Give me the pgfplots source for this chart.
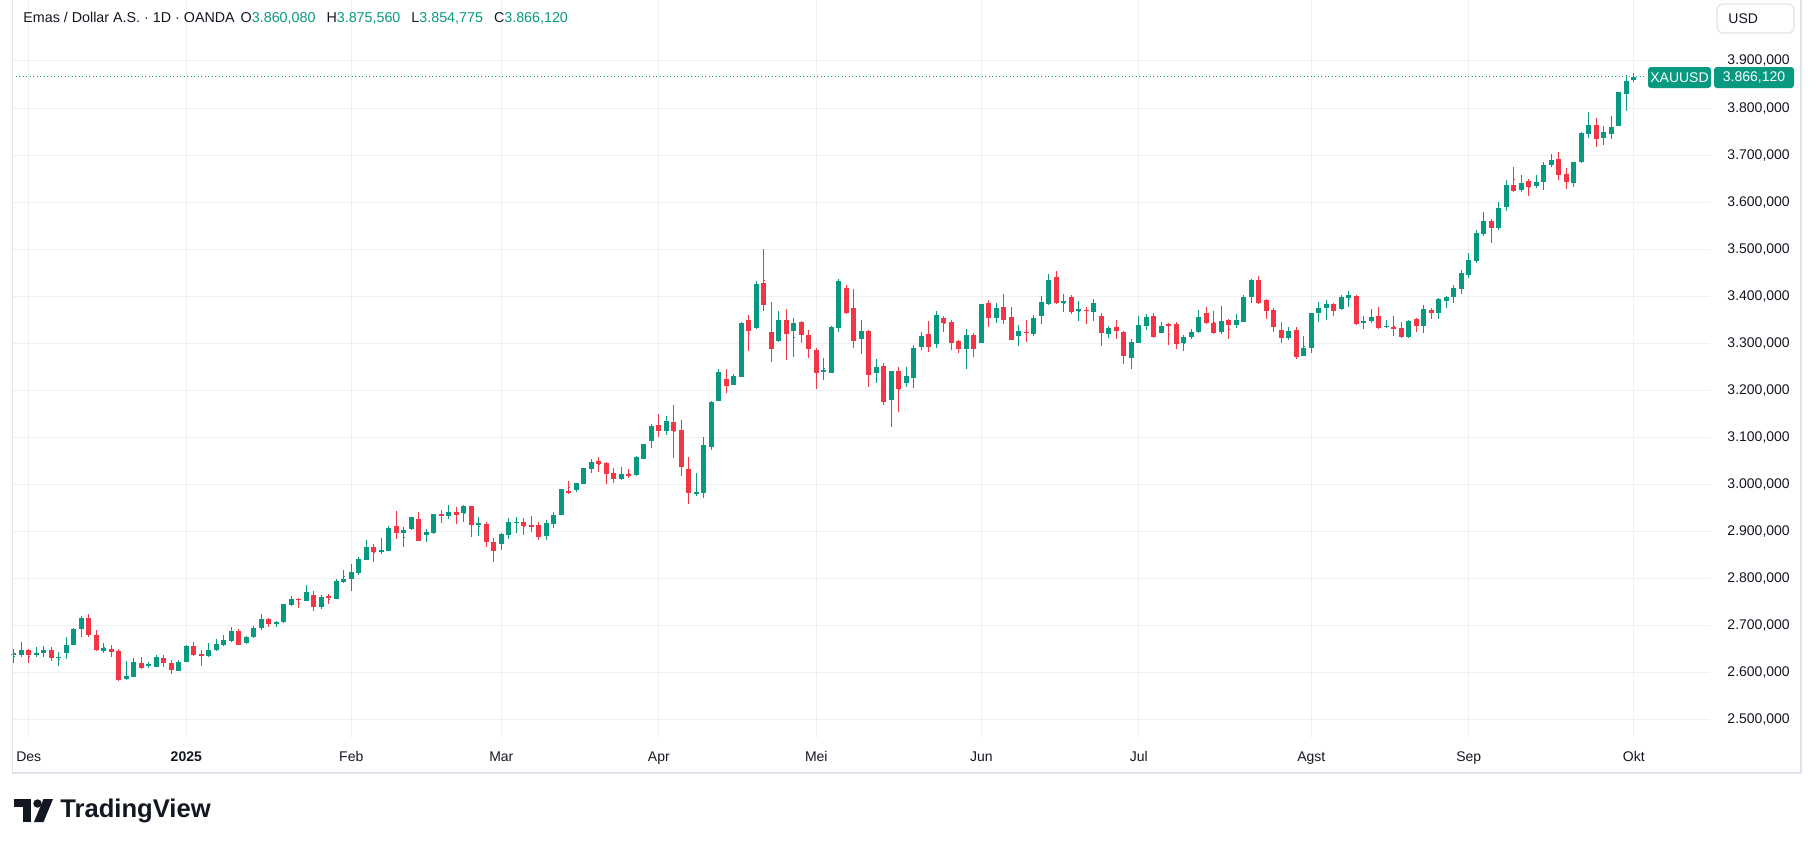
\documentclass[border=0pt]{standalone}
\usepackage{pgfplots}
\pgfplotsset{compat=1.18}
\usepackage{pgfplotstable}
\usepackage{fontspec}
\setmainfont{Liberation Sans}
\definecolor{upc}{HTML}{089981}
\definecolor{dnc}{HTML}{F23645}
\definecolor{txt}{HTML}{131722}
\definecolor{gridc}{HTML}{F0F0F0}
\definecolor{framec}{HTML}{E0E3EB}

\pgfplotstableread{
i o h l c
0 2638 2650 2621 2641
1 2636.9 2666 2634 2648.3
2 2649 2651 2621 2637
3 2637 2655.4 2634 2642.6
4 2641 2656.8 2632.7 2649
5 2649 2655.4 2624 2630.5
6 2632.7 2644.7 2613.5 2634
7 2641 2676.6 2628.4 2659.6
8 2659.6 2695.8 2658 2693.7
9 2692.2 2721.3 2675.2 2716.3
10 2717 2725.6 2676 2679.5
11 2680.9 2691.5 2646 2647.6
12 2646.8 2663.9 2642.6 2653.2
13 2651 2658 2632.7 2644.7
14 2646.8 2651 2583 2583.7
15 2585.8 2625.6 2584.5 2593
16 2591.5 2632 2590.1 2623.4
17 2621.3 2634 2608.6 2610.7
18 2616.3 2622.7 2610.7 2617.8
19 2612.8 2638.3 2612 2634
20 2632 2638.3 2611.4 2619.9
21 2621.3 2627 2596.5 2605
22 2604.3 2627 2602.9 2623.4
23 2623.4 2659.6 2622 2657.5
24 2657.5 2666 2636 2636.9
25 2640.5 2649 2614.9 2635.5
26 2634.8 2663.9 2632.7 2649
27 2647.6 2671 2645.4 2661.8
28 2659.6 2679.5 2656 2670.3
29 2668.1 2698 2665.3 2689.4
30 2689.4 2693 2658 2659.6
31 2662.5 2678.7 2661 2676.6
32 2675.2 2699 2673.8 2695.1
33 2695 2725 2690 2714
34 2714 2716 2697 2703
35 2703 2711 2697 2708
36 2708 2746 2705 2745.7
37 2744.3 2762.8 2741.4 2756.4
38 2757.1 2758.6 2737.8 2755
39 2752.8 2786.4 2752.1 2771.4
40 2765 2773.5 2731.4 2739.3
41 2739.3 2765 2735.7 2762.1
42 2762.8 2766.4 2747.1 2759.3
43 2757.1 2798.6 2756 2795
44 2792.8 2818.5 2791.4 2798.6
45 2800 2831.4 2774.3 2814.3
46 2812.1 2845.7 2808.6 2842.1
47 2840.7 2882.8 2839.3 2867.8
48 2867.1 2874.3 2835.7 2855.7
49 2855.7 2887.1 2852.9 2861.4
50 2859.3 2912.8 2858 2908.6
51 2912.8 2942.8 2883.6 2896.4
52 2896.4 2910.7 2866.4 2904.3
53 2905 2930.7 2902.8 2930
54 2927.8 2940.7 2879.3 2880.7
55 2892.1 2906.4 2878.6 2900
56 2897.8 2937.8 2894.3 2936.4
57 2935.7 2946.4 2919.3 2935
58 2932.8 2955.7 2927.1 2940.7
59 2940.7 2952.1 2917.1 2935
60 2938.6 2957.1 2921.4 2953.6
61 2953.6 2954.5 2889.3 2913.6
62 2915.7 2930 2891.4 2917.1
63 2917.1 2921.4 2867.8 2877.1
64 2878 2885.8 2835.5 2858.9
65 2873.8 2896.5 2861 2894.3
66 2892.9 2928.4 2884.4 2920.6
67 2919.2 2930.5 2897.2 2920.6
68 2919.9 2928.4 2892.9 2912.1
69 2913.5 2932.6 2899.3 2910
70 2913.5 2919.9 2882.3 2888.7
71 2890.1 2924.1 2882.3 2917.7
72 2916.3 2941.8 2907.1 2934.8
73 2935.5 2990.8 2934.8 2990.1
74 2985.8 3007.1 2980.2 2983.7
75 2988 3003.6 2985.1 3002.9
76 3001.5 3035.5 3000.7 3034.7
77 3032.6 3053.9 3024.8 3047.5
78 3049.6 3058.1 3027 3043.3
79 3045.4 3047.5 3001.5 3022.7
80 3024.1 3034.7 3003.6 3012.1
81 3011.4 3036.9 3009.2 3022
82 3022 3032.6 3014.2 3020.6
83 3019.9 3061 3017.8 3058.1
84 3054.6 3087.2 3054 3085.8
85 3092.2 3129.1 3077.3 3124.1
86 3126.3 3148.9 3100.7 3114.2
87 3114.2 3144.7 3105.7 3134.1
88 3132.6 3168.1 3056.7 3114.2
89 3115.6 3136.9 3017.8 3036.9
90 3032.6 3058.1 2958.9 2982.3
91 2982.3 3024.1 2975.2 2983.7
92 2982.3 3100.7 2970.9 3083.7
93 3080.1 3178 3073.8 3175
94 3178 3244.7 3177.3 3239
95 3224.3 3245.7 3194.3 3210
96 3211.4 3235 3210.5 3230.7
97 3229.3 3345 3228.6 3344.3
98 3348.6 3359.3 3284.3 3325.7
99 3332.1 3432.1 3331.4 3425.7
100 3427.9 3500.7 3368.6 3381.4
101 3325 3387.1 3261.4 3287.1
102 3304.3 3367.9 3303.6 3350.7
103 3350.7 3372.1 3265.7 3319.3
104 3325.7 3354.3 3270 3344.3
105 3346.4 3347 3300 3317.1
106 3318.6 3329.3 3267.9 3287.1
107 3286.4 3289.3 3203.6 3237.9
108 3240.7 3269.3 3222.9 3242.1
109 3237.9 3337.9 3237.1 3335.7
110 3332.1 3437.1 3323.6 3432.1
111 3417.1 3424.3 3361.4 3364.3
112 3374.3 3415 3289.3 3304.3
113 3308.6 3348.6 3276.4 3327.1
114 3327.1 3328 3207.9 3233.6
115 3237.9 3267.1 3216.4 3250
116 3252.1 3258.6 3169.3 3175.7
117 3180 3242.1 3122.1 3241.4
118 3241.4 3250.7 3154.3 3203.6
119 3215 3250 3207.9 3230.7
120 3227.1 3297.1 3205.7 3290.7
121 3291.4 3325 3286.4 3316.4
122 3320.7 3347.1 3280.7 3292.9
123 3297.9 3368.6 3290 3359.3
124 3352.9 3358.6 3325 3342.9
125 3346.4 3350 3286.4 3300
126 3305.7 3307.1 3278.6 3287.1
127 3287.8 3331 3245.3 3318
128 3318 3323 3271.2 3288.5
129 3301.4 3383.5 3300.7 3382.7
130 3384.9 3392.8 3333.8 3353.3
131 3354.7 3385.6 3343.9 3374.1
132 3376.3 3404.3 3340.3 3350.4
133 3356.8 3376.3 3307.2 3307.9
134 3315.8 3339.6 3295 3326.6
135 3324.5 3350.4 3303.6 3323
136 3320.9 3361.2 3316.6 3354.7
137 3357.6 3400 3340.3 3387.1
138 3382.7 3447.5 3381.3 3434.5
139 3441 3454 3382.7 3384.9
140 3387.8 3404.3 3367.6 3389.2
141 3397.8 3402.2 3363.3 3367.6
142 3370.5 3389.2 3348.2 3372
143 3371.2 3376.3 3341.7 3369.1
144 3367.6 3393.5 3348.2 3384.9
145 3359 3365.5 3295 3323
146 3320.2 3337.4 3311.5 3333.1
147 3335.3 3350.4 3309.4 3326.6
148 3324.5 3326.6 3256.1 3273.4
149 3269.1 3309.4 3245.3 3302.9
150 3301.4 3359 3300.7 3339.6
151 3337.4 3363.3 3328.8 3356.8
152 3359 3365.5 3311.5 3313.7
153 3323 3346.1 3322.3 3337.4
154 3341.7 3342.4 3297.1 3337.4
155 3341.7 3346.1 3287.8 3299.3
156 3301.4 3318 3284.2 3313.7
157 3313.7 3331 3310.1 3324.5
158 3324.1 3370.1 3322.7 3357
159 3363.5 3376.7 3341.7 3342.4
160 3343.8 3367.9 3319.7 3322
161 3324.1 3378.9 3319.7 3348.2
162 3350.4 3352.6 3308.8 3338
163 3339.5 3361.4 3333.6 3350.4
164 3346 3403 3345.3 3398.6
165 3398.6 3435.8 3385.4 3433.6
166 3433.6 3442.4 3383.2 3385.4
167 3392 3394.2 3352.6 3367.9
168 3370.1 3374.5 3324.1 3335.1
169 3328.5 3346 3300 3311
170 3311 3335.1 3306.6 3326.3
171 3328.5 3335.1 3267.2 3271.6
172 3273.8 3315.4 3273 3289.1
173 3289.1 3364.3 3280.3 3363.5
174 3363.5 3387.6 3346 3374.5
175 3374.5 3392 3350.4 3383.2
176 3383.2 3385.4 3359.2 3367.9
177 3372.3 3403 3371.6 3398.6
178 3396.4 3411.7 3376.7 3403
179 3401.5 3403.7 3340 3341.7
180 3342.4 3359.2 3331.4 3348.2
181 3348.2 3372.3 3343.8 3357
182 3359.2 3376.7 3331.4 3332.9
183 3335.8 3350.4 3333.6 3337.3
184 3335.1 3359.2 3315.4 3331.4
185 3332.9 3346 3312 3313.2
186 3313.2 3350.4 3311.7 3348.2
187 3352.6 3353.3 3324.1 3337.3
188 3337.3 3381.1 3321 3372.3
189 3370 3376 3351 3364.3
190 3365 3397 3352 3395
191 3390 3401.4 3375.9 3398.5
192 3399.2 3424 3386.5 3417.7
193 3415.5 3455.9 3405.6 3449.5
194 3445.3 3492 3438.9 3477.2
195 3475.7 3540.9 3470.8 3534.5
196 3532.4 3579.9 3528.2 3560
197 3560 3564.3 3513.3 3545.2
198 3545.2 3600.4 3540.9 3587.6
199 3589.8 3647.1 3581.3 3636.5
200 3636.5 3674.7 3622 3623.8
201 3625.9 3657.7 3621.6 3640.8
202 3645 3649.3 3613.1 3632.2
203 3634.4 3657.7 3630.1 3642.9
204 3642.9 3685.4 3625.9 3679
205 3679 3702.4 3674.7 3689.6
206 3691.7 3706.6 3647.1 3657.7
207 3659.9 3672.6 3628 3642.9
208 3640.8 3686.1 3632.3 3685.4
209 3685.4 3749.1 3683.2 3747
210 3744.9 3791.6 3736.4 3764
211 3764 3778.9 3717.2 3734.2
212 3736.4 3761.9 3721.5 3749.1
213 3744.9 3783.1 3734.2 3759.7
214 3761.9 3834.8 3761.1 3834.1
215 3829.8 3870.2 3793.7 3857.5
216 3860.08 3875.56 3854.775 3866.12
}\candles

\begin{document}
\begin{tikzpicture}
\useasboundingbox (0,0) rectangle (907.5pt,-424pt);
\begin{axis}[
  at={(6pt,0pt)}, anchor=north west,
  scale only axis, width=849pt, height=369pt,
  xmin=-0.24, xmax=226.16, ymin=2461.4, ymax=4029.6,
  axis line style={draw=none},
  major tick length=0pt,
  tick style={draw=none},
  xtick={2,23,45,65,86,107,129,150,173,194,216},
  xticklabels={Des,\textbf{2025},Feb,Mar,Apr,Mei,Jun,Jul,Agst,Sep,Okt},
  ytick={2500,2600,...,3900},
  scaled y ticks=false,
  yticklabel pos=right,
  yticklabel={\pgfmathprintnumber[fixed,fixed zerofill,precision=3,use comma,assume math mode=true]{\tick}},
  tick label style={font=\fontsize{7}{8}\selectfont, text=txt},
  yticklabel style={anchor=west, xshift=5.2pt},
  xticklabel style={anchor=base, yshift=-11.5pt},
  grid=major,
  major grid style={draw=gridc, line width=0.5pt},
]
\addplot[upc, line width=0.5pt, dash pattern=on 0.5pt off 1.25pt, forget plot]
  coordinates {(-0.24,3866.12) (217.4,3866.12)};
% wicks
\addplot[only marks, mark=-, mark size=0.1pt, mark options={draw=upc, fill=upc, line width=0.3pt}, forget plot,
  restrict expr to domain={\thisrow{c}-\thisrow{o}}{0:100000},
  error bars/.cd, y dir=both, y explicit, error mark=none,
  error bar style={line width=0.55pt, draw=upc}]
  table[x=i, y expr={(\thisrow{h}+\thisrow{l})/2}, y error expr={(\thisrow{h}-\thisrow{l})/2}] {\candles};
\addplot[only marks, mark=-, mark size=0.1pt, mark options={draw=dnc, fill=dnc, line width=0.3pt}, forget plot,
  restrict expr to domain={\thisrow{o}-\thisrow{c}}{0.001:100000},
  error bars/.cd, y dir=both, y explicit, error mark=none,
  error bar style={line width=0.55pt, draw=dnc}]
  table[x=i, y expr={(\thisrow{h}+\thisrow{l})/2}, y error expr={(\thisrow{h}-\thisrow{l})/2}] {\candles};
% bodies
\addplot[only marks, mark=-, mark size=1.3pt, mark options={draw=upc, line width=0.55pt}, forget plot,
  restrict expr to domain={\thisrow{c}-\thisrow{o}}{0:100000},
  error bars/.cd, y dir=both, y explicit, error mark=none,
  error bar style={line width=2.6pt, draw=upc}]
  table[x=i, y expr={(\thisrow{o}+\thisrow{c})/2}, y error expr={abs(\thisrow{c}-\thisrow{o})/2}] {\candles};
\addplot[only marks, mark=-, mark size=1.3pt, mark options={draw=dnc, line width=0.55pt}, forget plot,
  restrict expr to domain={\thisrow{o}-\thisrow{c}}{0.001:100000},
  error bars/.cd, y dir=both, y explicit, error mark=none,
  error bar style={line width=2.6pt, draw=dnc}]
  table[x=i, y expr={(\thisrow{o}+\thisrow{c})/2}, y error expr={abs(\thisrow{c}-\thisrow{o})/2}] {\candles};
\end{axis}
\begin{scope}[x=0.5pt,y=-0.5pt]
  % frame
  \draw[framec, line width=0.6pt] (12.7,0) -- (12.7,773) -- (1801,773) -- (1801,0);
  % header
  \node[anchor=west, inner sep=0pt, text=txt, font=\fontsize{7.15}{9}\selectfont] at (23,18.5)
    {Emas / Dollar A.S. · 1D · OANDA\hspace{3pt}O\textcolor{upc}{3.860,080}\hspace{5.5pt}H\textcolor{upc}{3.875,560}\hspace{5.5pt}L\textcolor{upc}{3.854,775}\hspace{5.5pt}C\textcolor{upc}{3.866,120}};
  % USD box
  \draw[framec, line width=0.6pt, rounded corners=3pt] (1717,4) rectangle (1794,33);
  \node[anchor=west, inner sep=0pt, text=txt, font=\fontsize{7}{8}\selectfont] at (1728,18.5) {USD};
  % price tags
  \fill[upc, rounded corners=1.5pt] (1648,67) rectangle (1711,88);
  \node[text=white, inner sep=0pt, font=\fontsize{7}{8}\selectfont] at (1679.5,77.5) {XAUUSD};
  \fill[upc, rounded corners=1.5pt] (1714,67) rectangle (1794,88);
  \node[text=white, inner sep=0pt, font=\fontsize{7}{8}\selectfont] at (1754,77.5) {3.866,120};
  % TradingView logo
  \fill[txt] (14,799) rectangle (31,807);
  \fill[txt] (23,799) rectangle (31,822);
  \fill[txt] (37.5,803.5) circle (4.2);
  \fill[txt] (34,822) -- (43.5,799) -- (53,799) -- (43.5,822) -- cycle;
  \node[anchor=west, inner sep=0pt, text=txt, font=\fontsize{12.8}{14}\selectfont\bfseries] at (60,810.5) {TradingView};
\end{scope}
\end{tikzpicture}
\end{document}
